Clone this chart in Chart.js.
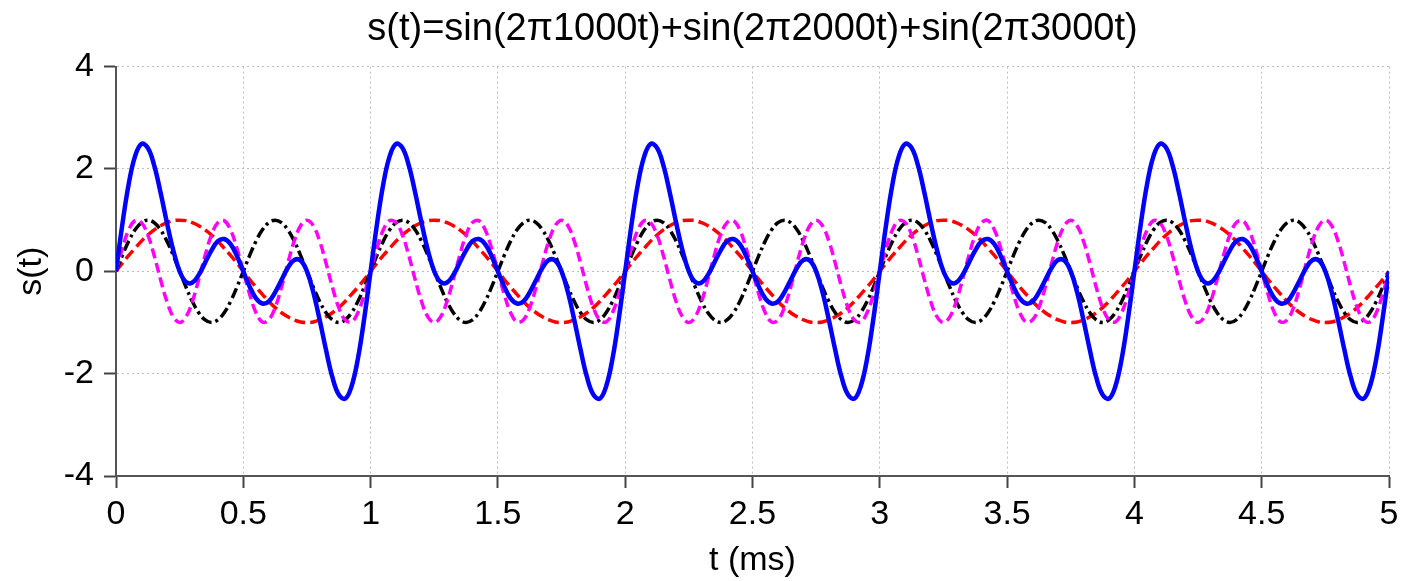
<!DOCTYPE html>
<html>
<head>
<meta charset="utf-8">
<title>s(t)</title>
<script src="https://cdn.jsdelivr.net/npm/chart.js@4.4.1/dist/chart.umd.min.js"></script>
<style>
  html, body { margin: 0; padding: 0; background: #fff; }
  canvas { display: block; }
</style>
</head>
<body>
<canvas id="myChart" width="1405" height="581"></canvas>
<script>
// time axis (ms), sampled every 0.025 ms
const tMs = [
  0,0.025,0.05,0.075,0.1,0.125,0.15,0.175,0.2,0.225,0.25,0.275,0.3,0.325,0.35,0.375,0.4,0.425,0.45,0.475,0.5,0.525,0.55,0.575,0.6,0.625,0.65,0.675,0.7,0.725,0.75,0.775,0.8,0.825,0.85,0.875,0.9,0.925,0.95,0.975,
  1,1.025,1.05,1.075,1.1,1.125,1.15,1.175,1.2,1.225,1.25,1.275,1.3,1.325,1.35,1.375,1.4,1.425,1.45,1.475,1.5,1.525,1.55,1.575,1.6,1.625,1.65,1.675,1.7,1.725,1.75,1.775,1.8,1.825,1.85,1.875,1.9,1.925,1.95,1.975,
  2,2.025,2.05,2.075,2.1,2.125,2.15,2.175,2.2,2.225,2.25,2.275,2.3,2.325,2.35,2.375,2.4,2.425,2.45,2.475,2.5,2.525,2.55,2.575,2.6,2.625,2.65,2.675,2.7,2.725,2.75,2.775,2.8,2.825,2.85,2.875,2.9,2.925,2.95,2.975,
  3,3.025,3.05,3.075,3.1,3.125,3.15,3.175,3.2,3.225,3.25,3.275,3.3,3.325,3.35,3.375,3.4,3.425,3.45,3.475,3.5,3.525,3.55,3.575,3.6,3.625,3.65,3.675,3.7,3.725,3.75,3.775,3.8,3.825,3.85,3.875,3.9,3.925,3.95,3.975,
  4,4.025,4.05,4.075,4.1,4.125,4.15,4.175,4.2,4.225,4.25,4.275,4.3,4.325,4.35,4.375,4.4,4.425,4.45,4.475,4.5,4.525,4.55,4.575,4.6,4.625,4.65,4.675,4.7,4.725,4.75,4.775,4.8,4.825,4.85,4.875,4.9,4.925,4.95,4.975,
  5
];

// 1000 Hz (red dashed)
const s1k = [
  0,0.16,0.31,0.45,0.59,0.71,0.81,0.89,0.95,0.99,1,0.99,0.95,0.89,0.81,0.71,0.59,0.45,0.31,0.16,0,-0.16,-0.31,-0.45,-0.59,-0.71,-0.81,-0.89,-0.95,-0.99,-1,-0.99,-0.95,-0.89,-0.81,-0.71,-0.59,-0.45,-0.31,-0.16,
  0,0.16,0.31,0.45,0.59,0.71,0.81,0.89,0.95,0.99,1,0.99,0.95,0.89,0.81,0.71,0.59,0.45,0.31,0.16,0,-0.16,-0.31,-0.45,-0.59,-0.71,-0.81,-0.89,-0.95,-0.99,-1,-0.99,-0.95,-0.89,-0.81,-0.71,-0.59,-0.45,-0.31,-0.16,
  0,0.16,0.31,0.45,0.59,0.71,0.81,0.89,0.95,0.99,1,0.99,0.95,0.89,0.81,0.71,0.59,0.45,0.31,0.16,0,-0.16,-0.31,-0.45,-0.59,-0.71,-0.81,-0.89,-0.95,-0.99,-1,-0.99,-0.95,-0.89,-0.81,-0.71,-0.59,-0.45,-0.31,-0.16,
  0,0.16,0.31,0.45,0.59,0.71,0.81,0.89,0.95,0.99,1,0.99,0.95,0.89,0.81,0.71,0.59,0.45,0.31,0.16,0,-0.16,-0.31,-0.45,-0.59,-0.71,-0.81,-0.89,-0.95,-0.99,-1,-0.99,-0.95,-0.89,-0.81,-0.71,-0.59,-0.45,-0.31,-0.16,
  0,0.16,0.31,0.45,0.59,0.71,0.81,0.89,0.95,0.99,1,0.99,0.95,0.89,0.81,0.71,0.59,0.45,0.31,0.16,0,-0.16,-0.31,-0.45,-0.59,-0.71,-0.81,-0.89,-0.95,-0.99,-1,-0.99,-0.95,-0.89,-0.81,-0.71,-0.59,-0.45,-0.31,-0.16,
  0
];

// 2000 Hz (black dash-dot)
const s2k = [
  0,0.31,0.59,0.81,0.95,1,0.95,0.81,0.59,0.31,0,-0.31,-0.59,-0.81,-0.95,-1,-0.95,-0.81,-0.59,-0.31,0,0.31,0.59,0.81,0.95,1,0.95,0.81,0.59,0.31,0,-0.31,-0.59,-0.81,-0.95,-1,-0.95,-0.81,-0.59,-0.31,
  0,0.31,0.59,0.81,0.95,1,0.95,0.81,0.59,0.31,0,-0.31,-0.59,-0.81,-0.95,-1,-0.95,-0.81,-0.59,-0.31,0,0.31,0.59,0.81,0.95,1,0.95,0.81,0.59,0.31,0,-0.31,-0.59,-0.81,-0.95,-1,-0.95,-0.81,-0.59,-0.31,
  0,0.31,0.59,0.81,0.95,1,0.95,0.81,0.59,0.31,0,-0.31,-0.59,-0.81,-0.95,-1,-0.95,-0.81,-0.59,-0.31,0,0.31,0.59,0.81,0.95,1,0.95,0.81,0.59,0.31,0,-0.31,-0.59,-0.81,-0.95,-1,-0.95,-0.81,-0.59,-0.31,
  0,0.31,0.59,0.81,0.95,1,0.95,0.81,0.59,0.31,0,-0.31,-0.59,-0.81,-0.95,-1,-0.95,-0.81,-0.59,-0.31,0,0.31,0.59,0.81,0.95,1,0.95,0.81,0.59,0.31,0,-0.31,-0.59,-0.81,-0.95,-1,-0.95,-0.81,-0.59,-0.31,
  0,0.31,0.59,0.81,0.95,1,0.95,0.81,0.59,0.31,0,-0.31,-0.59,-0.81,-0.95,-1,-0.95,-0.81,-0.59,-0.31,0,0.31,0.59,0.81,0.95,1,0.95,0.81,0.59,0.31,0,-0.31,-0.59,-0.81,-0.95,-1,-0.95,-0.81,-0.59,-0.31,
  0
];

// 3000 Hz (magenta dashed)
const s3k = [
  0,0.45,0.81,0.99,0.95,0.71,0.31,-0.16,-0.59,-0.89,-1,-0.89,-0.59,-0.16,0.31,0.71,0.95,0.99,0.81,0.45,0,-0.45,-0.81,-0.99,-0.95,-0.71,-0.31,0.16,0.59,0.89,1,0.89,0.59,0.16,-0.31,-0.71,-0.95,-0.99,-0.81,-0.45,
  0,0.45,0.81,0.99,0.95,0.71,0.31,-0.16,-0.59,-0.89,-1,-0.89,-0.59,-0.16,0.31,0.71,0.95,0.99,0.81,0.45,0,-0.45,-0.81,-0.99,-0.95,-0.71,-0.31,0.16,0.59,0.89,1,0.89,0.59,0.16,-0.31,-0.71,-0.95,-0.99,-0.81,-0.45,
  0,0.45,0.81,0.99,0.95,0.71,0.31,-0.16,-0.59,-0.89,-1,-0.89,-0.59,-0.16,0.31,0.71,0.95,0.99,0.81,0.45,0,-0.45,-0.81,-0.99,-0.95,-0.71,-0.31,0.16,0.59,0.89,1,0.89,0.59,0.16,-0.31,-0.71,-0.95,-0.99,-0.81,-0.45,
  0,0.45,0.81,0.99,0.95,0.71,0.31,-0.16,-0.59,-0.89,-1,-0.89,-0.59,-0.16,0.31,0.71,0.95,0.99,0.81,0.45,0,-0.45,-0.81,-0.99,-0.95,-0.71,-0.31,0.16,0.59,0.89,1,0.89,0.59,0.16,-0.31,-0.71,-0.95,-0.99,-0.81,-0.45,
  0,0.45,0.81,0.99,0.95,0.71,0.31,-0.16,-0.59,-0.89,-1,-0.89,-0.59,-0.16,0.31,0.71,0.95,0.99,0.81,0.45,0,-0.45,-0.81,-0.99,-0.95,-0.71,-0.31,0.16,0.59,0.89,1,0.89,0.59,0.16,-0.31,-0.71,-0.95,-0.99,-0.81,-0.45,
  0
];

// s(t), the sum (blue solid)
const sSum = [
  0,0.92,1.71,2.25,2.49,2.41,2.07,1.54,0.95,0.41,0,-0.21,-0.22,-0.07,0.17,0.41,0.59,0.63,0.53,0.3,0,-0.3,-0.53,-0.63,-0.59,-0.41,-0.17,0.07,0.22,0.21,0,-0.41,-0.95,-1.54,-2.07,-2.41,-2.49,-2.25,-1.71,-0.92,
  0,0.92,1.71,2.25,2.49,2.41,2.07,1.54,0.95,0.41,0,-0.21,-0.22,-0.07,0.17,0.41,0.59,0.63,0.53,0.3,0,-0.3,-0.53,-0.63,-0.59,-0.41,-0.17,0.07,0.22,0.21,0,-0.41,-0.95,-1.54,-2.07,-2.41,-2.49,-2.25,-1.71,-0.92,
  0,0.92,1.71,2.25,2.49,2.41,2.07,1.54,0.95,0.41,0,-0.21,-0.22,-0.07,0.17,0.41,0.59,0.63,0.53,0.3,0,-0.3,-0.53,-0.63,-0.59,-0.41,-0.17,0.07,0.22,0.21,0,-0.41,-0.95,-1.54,-2.07,-2.41,-2.49,-2.25,-1.71,-0.92,
  0,0.92,1.71,2.25,2.49,2.41,2.07,1.54,0.95,0.41,0,-0.21,-0.22,-0.07,0.17,0.41,0.59,0.63,0.53,0.3,0,-0.3,-0.53,-0.63,-0.59,-0.41,-0.17,0.07,0.22,0.21,0,-0.41,-0.95,-1.54,-2.07,-2.41,-2.49,-2.25,-1.71,-0.92,
  0,0.92,1.71,2.25,2.49,2.41,2.07,1.54,0.95,0.41,0,-0.21,-0.22,-0.07,0.17,0.41,0.59,0.63,0.53,0.3,0,-0.3,-0.53,-0.63,-0.59,-0.41,-0.17,0.07,0.22,0.21,0,-0.41,-0.95,-1.54,-2.07,-2.41,-2.49,-2.25,-1.71,-0.92,
  0
];

const pts = (vals) => tMs.map((t, i) => ({ x: t, y: vals[i] }));
const font = "'Liberation Sans', Arial, sans-serif";

const line = (label, vals, color, width, dash) => ({
  label: label,
  data: pts(vals),
  borderColor: color,
  backgroundColor: color,
  borderWidth: width,
  borderDash: dash,
  pointRadius: 0,
  fill: false,
  tension: 0.4,
});

const ctx = document.getElementById("myChart").getContext("2d");
const myChart = new Chart(ctx, {
  type: "line",
  data: {
    // first dataset is drawn on top
    datasets: [
      line("s(t)", sSum, "#0000ff", 4.5, []),
      line("3000 Hz", s3k, "#ff00ff", 3.5, [10, 5]),
      line("2000 Hz", s2k, "#000000", 3.5, [11, 4, 3, 4]),
      line("1000 Hz", s1k, "#ff0000", 3.5, [11, 5]),
    ],
  },
  options: {
    responsive: false,
    animation: false,
    layout: { padding: { left: 0, right: 16, top: 0, bottom: 0 } },
    plugins: {
      legend: { display: false },
      tooltip: { enabled: false },
      title: {
        display: true,
        fullSize: false,
        text: "s(t)=sin(2\u03c01000t)+sin(2\u03c02000t)+sin(2\u03c03000t)",
        color: "#000",
        font: { family: font, size: 38, weight: "normal" },
        padding: { top: 7, bottom: 14 },
      },
    },
    scales: {
      x: {
        type: "linear",
        min: 0,
        max: 5,
        ticks: {
          stepSize: 0.5,
          color: "#000",
          padding: 6,
          maxRotation: 0,
          font: { family: font, size: 34 },
          callback: (v) => `${v}`,
        },
        grid: {
          color: "#bdbdbd",
          lineWidth: 1,
          tickLength: 12,
          tickColor: "#444",
          tickWidth: 2,
        },
        border: { display: true, color: "#555", width: 2, dash: [2, 3] },
        title: {
          display: true,
          text: "t (ms)",
          color: "#000",
          font: { family: font, size: 34 },
          padding: { top: 0, bottom: 0 },
        },
        afterFit: (scale) => { scale.height = 105; },
      },
      y: {
        min: -4,
        max: 4,
        ticks: {
          stepSize: 2,
          color: "#000",
          padding: 10,
          font: { family: font, size: 34 },
        },
        grid: {
          color: "#bdbdbd",
          lineWidth: 1,
          tickLength: 12,
          tickColor: "#444",
          tickWidth: 2,
        },
        border: { display: true, color: "#555", width: 2, dash: [2, 3] },
        title: {
          display: true,
          text: "s(t)",
          color: "#000",
          font: { family: font, size: 34 },
          padding: { top: 11, bottom: 0 },
        },
        afterFit: (scale) => { scale.width = 116; },
      },
    },
  },
});
</script>
</body>
</html>
